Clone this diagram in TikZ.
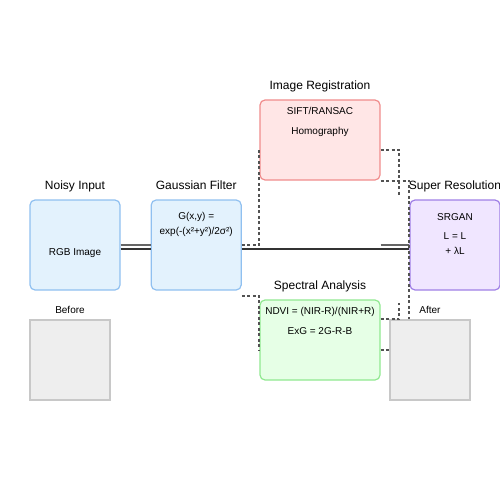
\documentclass[tikz,border=0pt]{standalone}
\usepackage{fontspec}
\setmainfont{Liberation Sans}
\usepackage{tikz}
\usetikzlibrary{positioning, shapes.geometric}
\definecolor{blueFill}{HTML}{E3F2FD}
\definecolor{blueLine}{HTML}{90C0F0}
\definecolor{redFill}{HTML}{FFE6E6}
\definecolor{redLine}{HTML}{F08C8C}
\definecolor{greenFill}{HTML}{E6FFE6}
\definecolor{greenLine}{HTML}{90E890}
\definecolor{purpleFill}{HTML}{F0E6FF}
\definecolor{purpleLine}{HTML}{A080E6}
\definecolor{sampleFill}{HTML}{EEEEEE}
\definecolor{sampleLine}{HTML}{C8C8C8}
\tikzstyle{stage} = [rectangle, rounded corners=5pt, minimum width=90pt, minimum height=90pt, inner sep=0pt, line width=1.2pt]
\tikzstyle{input} = [stage, draw=blueLine, fill=blueFill]
\tikzstyle{registration} = [stage, minimum width=120pt, minimum height=80pt, draw=redLine, fill=redFill]
\tikzstyle{spectral} = [stage, minimum width=120pt, minimum height=80pt, draw=greenLine, fill=greenFill]
\tikzstyle{superres} = [stage, draw=purpleLine, fill=purpleFill]
\tikzstyle{sample} = [rectangle, minimum width=80pt, minimum height=80pt, inner sep=0pt, line width=1.5pt, draw=sampleLine, fill=sampleFill]
\tikzstyle{heading} = [anchor=base, inner sep=0pt, font=\fontsize{12}{14}\selectfont]
\tikzstyle{formula} = [anchor=base, inner sep=0pt, font=\fontsize{10}{12}\selectfont]
\tikzstyle{wire} = [line width=2pt, draw=black!60]
\tikzstyle{darkwire} = [line width=2pt, draw=black!80]
\tikzstyle{dashwire} = [line width=2pt, draw=black!68, dash pattern=on 3pt off 2.5pt]

\begin{document}
\begin{tikzpicture}[x=1pt, y=-1pt]
\clip (0,0) rectangle (500,500);

\node (noisy) [input] at (75,245) {};
\node [heading] at ([yshift=10pt]noisy.north) {Noisy Input};
\node [formula] at ([yshift=-10pt]noisy.center) {RGB Image};

\node (gauss) [input, right=30pt of noisy] {};
\node [heading] at ([yshift=10pt]gauss.north) {Gaussian Filter};
\node [formula] at ([yshift=-20pt]gauss.north) {G(x,y) =};
\node [formula] at ([yshift=-35pt]gauss.north) {exp(-(x²+y²)/2σ²)};

\node (reg) [registration] at (320,140) {};
\node [heading] at ([yshift=10pt]reg.north) {Image Registration};
\node [formula] at ([yshift=-15pt]reg.north) {SIFT/RANSAC};
\node [formula] at ([yshift=-35pt]reg.north) {Homography};

\node (spec) [spectral] at (320,340) {};
\node [heading] at ([yshift=10pt]spec.north) {Spectral Analysis};
\node [formula] at ([yshift=-15pt]spec.north) {NDVI = (NIR-R)/(NIR+R)};
\node [formula] at ([yshift=-35pt]spec.north) {ExG = 2G-R-B};

\node (sr) [superres] at (455,245) {};
\node [heading] at ([yshift=10pt]sr.north) {Super Resolution};
\node [formula] at ([yshift=-21pt]sr.north) {SRGAN};
\node [formula] at ([yshift=-40pt]sr.north) {L = L};
\node [formula] at ([yshift=-55pt]sr.north) {+ λL};

\node (before) [sample] at (70,360) {};
\node [formula] at ([yshift=6pt]before.north) {Before};
\node (after) [sample] at (430,360) {};
\node [formula] at ([yshift=6pt]after.north) {After};

\draw [wire] (noisy.east) -- (gauss.west);
\draw [darkwire] ([yshift=-4pt]noisy.east) -- ([yshift=-4pt]gauss.west);
\draw [darkwire] ([yshift=-4pt]gauss.east) -- ([yshift=-4pt]sr.west);
\draw [wire] (reg.south east |- sr.west) -- (sr.west);

\draw [dashwire] (gauss.east) -| ([yshift=-10pt]reg.west);
\draw [dashwire] ([yshift=-5pt]gauss.south east) -| ([yshift=-10pt]spec.west);
\draw [dashwire] ([yshift=-10pt]reg.east) -| ([xshift=-10pt, yshift=3pt]sr.north west);
\draw [dashwire] (reg.south east) -| (sr.west |- after.north);
\draw [dashwire] (spec.east |- after.north) -| ([xshift=-10pt, yshift=-12pt]sr.south west);
\draw [dashwire] ([yshift=-10pt]spec.east) -- ([yshift=10pt]after.west);

\end{tikzpicture}
\end{document}
